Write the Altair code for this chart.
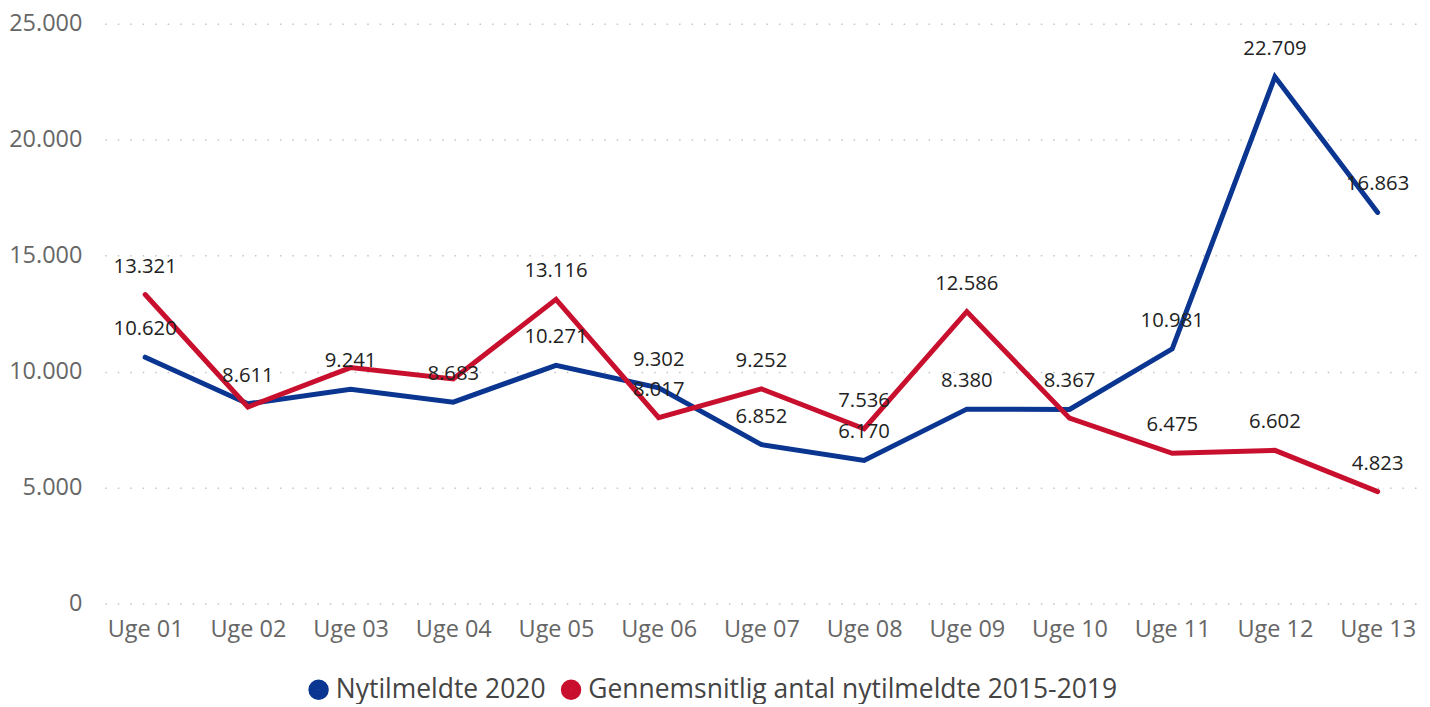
import altair as alt
import pandas as pd

weeks = ["Uge 01", "Uge 02", "Uge 03", "Uge 04", "Uge 05", "Uge 06", "Uge 07",
         "Uge 08", "Uge 09", "Uge 10", "Uge 11", "Uge 12", "Uge 13"]
nyt_2020 = [10620, 8611, 9241, 8683, 10271, 9302, 6852, 6170, 8380, 8367, 10981, 22709, 16863]
gns_2015_2019 = [13321, 8470, 10170, 9680, 13116, 8017, 9252, 7536, 12586, 7990, 6475, 6602, 4823]
# labels shown in the reference (some hidden because of overlap)
gns_label_shown = [True, False, False, False, True, True, True, True, True, False, True, True, True]
series_names = ["Nytilmeldte 2020", "Gennemsnitlig antal nytilmeldte 2015-2019"]
series_colors = ["#0A3590", "#C8102E"]

rows = []
for w, v in zip(weeks, nyt_2020):
    rows.append({"uge": w, "serie": series_names[0], "value": v, "show": True})
for w, v, s in zip(weeks, gns_2015_2019, gns_label_shown):
    rows.append({"uge": w, "serie": series_names[1], "value": v, "show": s})
df = pd.DataFrame(rows)

FONT = "Open Sans"
PAD = 0.393

x = alt.X("uge:N", sort=weeks, title=None,
          scale=alt.Scale(type="point", padding=PAD),
          axis=alt.Axis(labelAngle=0, domain=False, ticks=False, labelPadding=14,
                        labelFontSize=23.5, labelColor="#666666", labelFont=FONT, grid=False))
y = alt.Y("value:Q", title=None,
          scale=alt.Scale(domain=[0, 25000], nice=False),
          axis=alt.Axis(values=[0, 5000, 10000, 15000, 20000, 25000], domain=False, ticks=False,
                        labelPadding=23, labelFontSize=23.5, labelColor="#666666", labelFont=FONT,
                        labelExpr="replace(format(datum.value, ',d'), ',', '.')",
                        grid=True, gridColor="#c4c4c4", gridDash=[1.5, 11], gridWidth=1.5))

color = alt.Color("serie:N", sort=series_names,
                  scale=alt.Scale(domain=series_names, range=series_colors),
                  legend=alt.Legend(title=None, orient="none", direction="horizontal",
                                    legendX=201, legendY=654,
                                    symbolType="circle", symbolSize=110, symbolStrokeWidth=10,
                                    symbolOpacity=1, labelFontSize=26.5, labelFont=FONT,
                                    labelColor="#444444", labelOffset=4, columnPadding=0,
                                    labelLimit=0))

lines = alt.Chart(df).mark_line(strokeWidth=5, strokeCap="round", strokeJoin="miter").encode(
    x=x, y=y, color=color, order=alt.Order("serie:N")
)

labels = alt.Chart(df).transform_filter("datum.show").transform_calculate(
    lbl="replace(format(datum.value, ',d'), ',', '.')"
).mark_text(fontSize=20.3, font=FONT, color="#222222", dy=-28, baseline="middle").encode(
    x=alt.X("uge:N", sort=weeks, scale=alt.Scale(type="point", padding=PAD)),
    y=alt.Y("value:Q", scale=alt.Scale(domain=[0, 25000], nice=False)),
    text="lbl:N"
)

chart = alt.layer(lines, labels).properties(
    width=1316, height=581,
    autosize=alt.AutoSizeParams(type="none"),
    padding={"left": 97, "top": 15, "right": 4, "bottom": 100}
).configure(background="white").configure_view(stroke=None, strokeWidth=0)

chart.save("out.html", embed_options={"renderer": "svg", "actions": False})
